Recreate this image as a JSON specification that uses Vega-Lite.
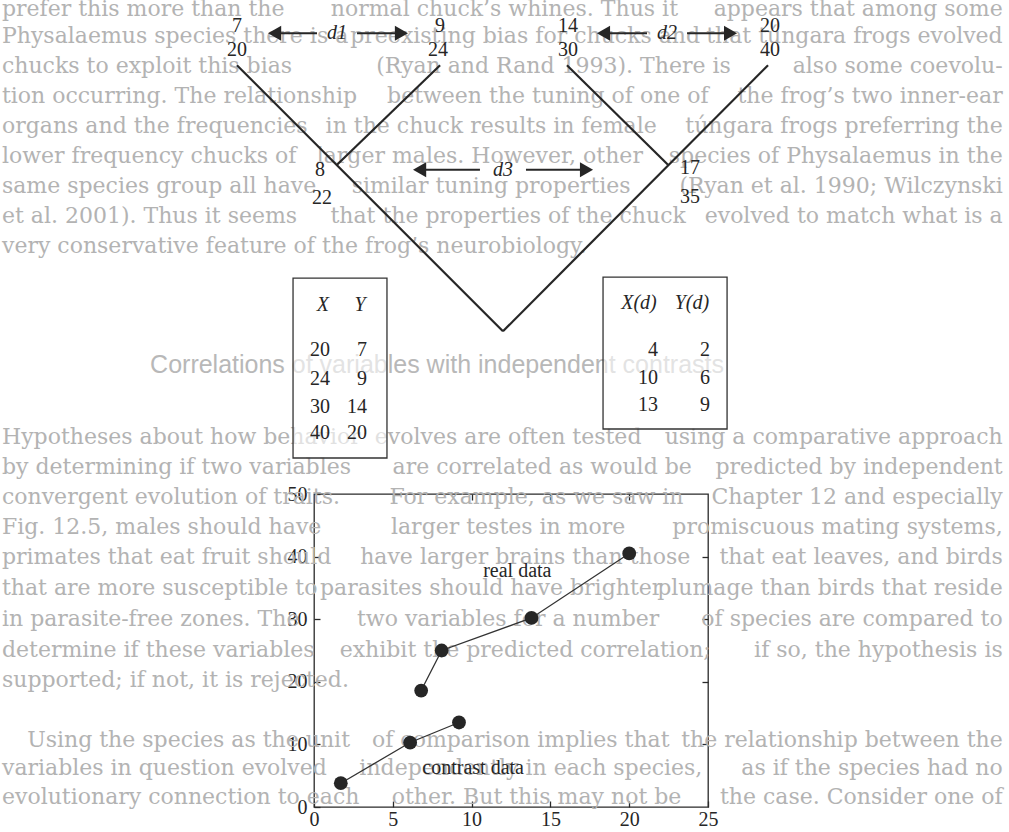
{
  "$schema": "https://vega.github.io/schema/vega-lite/v6.json",
  "width": 394,
  "height": 313,
  "autosize": {"type": "none"},
  "padding": {"left": 314, "top": 494, "right": 301, "bottom": 25},
  "background": "#ffffff",
  "config": {"view": {"stroke": "#2a2a2a", "strokeWidth": 1.3}},
  "datasets": {
    "bgLeft": [
      {"u": -19.8, "v": 127.4, "t": "prefer this more than the"},
      {"u": -19.8, "v": 123.2, "t": "Physalaemus species there is a"},
      {"u": -19.8, "v": 118.4, "t": "chucks to exploit this bias"},
      {"u": -19.8, "v": 113.6, "t": "tion occurring. The relationship"},
      {"u": -19.8, "v": 108.8, "t": "organs and the frequencies"},
      {"u": -19.8, "v": 104.0, "t": "lower frequency chucks of"},
      {"u": -19.8, "v": 99.2, "t": "same species group all have"},
      {"u": -19.8, "v": 94.4, "t": "et al. 2001). Thus it seems"},
      {"u": -19.8, "v": 89.6, "t": "very conservative feature of the frog’s neurobiology."},
      {"u": -19.8, "v": 59.1, "t": "Hypotheses about how behavior"},
      {"u": -19.8, "v": 54.3, "t": "by determining if two variables"},
      {"u": -19.8, "v": 49.5, "t": "convergent evolution of traits."},
      {"u": -19.8, "v": 44.7, "t": "Fig. 12.5, males should have"},
      {"u": -19.8, "v": 39.9, "t": "primates that eat fruit should"},
      {"u": -19.8, "v": 35.0, "t": "that are more susceptible to"},
      {"u": -19.8, "v": 30.0, "t": "in parasite-free zones. The"},
      {"u": -19.8, "v": 25.1, "t": "determine if these variables"},
      {"u": -19.8, "v": 20.3, "t": "supported; if not, it is rejected."},
      {"u": -18.2, "v": 10.7, "t": "Using the species as the unit"},
      {"u": -19.8, "v": 6.2, "t": "variables in question evolved"},
      {"u": -19.8, "v": 1.6, "t": "evolutionary connection to each"}
    ],
    "bgMid": [
      {"u": 12.08, "v": 127.4, "t": "normal chuck’s whines. Thus it"},
      {"u": 13.4, "v": 123.2, "t": "preexisting bias for chucks and"},
      {"u": 15.2, "v": 118.4, "t": "(Ryan and Rand 1993). There is"},
      {"u": 14.84, "v": 113.6, "t": "between the tuning of one of"},
      {"u": 11.24, "v": 108.8, "t": "in the chuck results in female"},
      {"u": 10.52, "v": 104.0, "t": "larger males. However, other"},
      {"u": 11.24, "v": 99.2, "t": "similar tuning properties"},
      {"u": 12.32, "v": 94.4, "t": "that the properties of the chuck"},
      {"u": 12.32, "v": 59.1, "t": "evolves are often tested"},
      {"u": 14.48, "v": 54.3, "t": "are correlated as would be"},
      {"u": 14.12, "v": 49.5, "t": "For example, as we saw in"},
      {"u": 12.32, "v": 44.7, "t": "larger testes in more"},
      {"u": 13.4, "v": 39.9, "t": "have larger brains than those"},
      {"u": 11.24, "v": 35.0, "t": "parasites should have brighter"},
      {"u": 12.32, "v": 30.0, "t": "two variables for a number"},
      {"u": 13.4, "v": 25.1, "t": "exhibit the predicted correlation;"},
      {"u": 13.12, "v": 10.7, "t": "of comparison implies that"},
      {"u": 13.76, "v": 6.2, "t": "independently in each species,"},
      {"u": 14.12, "v": 1.6, "t": "other. But this may not be"}
    ],
    "bgRight": [
      {"u": 43.7, "v": 127.4, "t": "appears that among some"},
      {"u": 43.7, "v": 123.2, "t": "that túngara frogs evolved"},
      {"u": 43.7, "v": 118.4, "t": "also some coevolu-"},
      {"u": 43.7, "v": 113.6, "t": "the frog’s two inner-ear"},
      {"u": 43.7, "v": 108.8, "t": "túngara frogs preferring the"},
      {"u": 43.7, "v": 104.0, "t": "species of Physalaemus in the"},
      {"u": 43.7, "v": 99.2, "t": "(Ryan et al. 1990; Wilczynski"},
      {"u": 43.7, "v": 94.4, "t": "evolved to match what is a"},
      {"u": 43.7, "v": 59.1, "t": "using a comparative approach"},
      {"u": 43.7, "v": 54.3, "t": "predicted by independent"},
      {"u": 43.7, "v": 49.5, "t": "Chapter 12 and especially"},
      {"u": 43.7, "v": 44.7, "t": "promiscuous mating systems,"},
      {"u": 43.7, "v": 39.9, "t": "that eat leaves, and birds"},
      {"u": 43.7, "v": 35.0, "t": "plumage than birds that reside"},
      {"u": 43.7, "v": 30.0, "t": "of species are compared to"},
      {"u": 43.7, "v": 25.1, "t": "if so, the hypothesis is"},
      {"u": 43.7, "v": 10.7, "t": "the relationship between the"},
      {"u": 43.7, "v": 6.2, "t": "as if the species had no"},
      {"u": 43.7, "v": 1.6, "t": "the case. Consider one of"}
    ],
    "heading": [
      {"u": -10.4, "v": 70.6, "t": "Correlations of variables with independent contrasts"}
    ],
    "tree": [
      {"x1": -4.89, "y1": 118.5, "x2": 11.99, "y2": 76.0},
      {"x1": 28.81, "y1": 118.5, "x2": 11.99, "y2": 76.0},
      {"x1": 8.0, "y1": 118.5, "x2": 1.46, "y2": 102.6},
      {"x1": 16.05, "y1": 118.5, "x2": 22.46, "y2": 102.6}
    ],
    "shafts": [
      {"x1": 0.19, "x2": -2.2, "y": 123.6},
      {"x1": 2.73, "x2": 5.25, "y": 123.6},
      {"x1": 21.13, "x2": 18.65, "y": 123.6},
      {"x1": 23.67, "x2": 26.15, "y": 123.6},
      {"x1": 10.53, "x2": 7.0, "y": 101.8},
      {"x1": 13.45, "x2": 17.0, "y": 101.8}
    ],
    "heads": [
      {"x": -2.5, "y": 123.6, "dir": "l"},
      {"x": 5.55, "y": 123.6, "dir": "r"},
      {"x": 18.37, "y": 123.6, "dir": "l"},
      {"x": 26.43, "y": 123.6, "dir": "r"},
      {"x": 6.7, "y": 101.8, "dir": "l"},
      {"x": 17.29, "y": 101.8, "dir": "r"}
    ],
    "boxes": [
      {"x1": -1.33, "x2": 4.63, "y1": 84.5, "y2": 55.75},
      {"x1": 18.34, "x2": 26.21, "y1": 84.66, "y2": 60.38}
    ],
    "labels": [
      {"x": -4.89, "y": 124.8, "t": "7"},
      {"x": -4.89, "y": 120.9, "t": "20"},
      {"x": 8.0, "y": 124.8, "t": "9"},
      {"x": 7.87, "y": 120.9, "t": "24"},
      {"x": 16.12, "y": 124.8, "t": "14"},
      {"x": 16.12, "y": 120.9, "t": "30"},
      {"x": 28.93, "y": 124.8, "t": "20"},
      {"x": 28.93, "y": 120.9, "t": "40"},
      {"x": 0.38, "y": 101.8, "t": "8"},
      {"x": 0.51, "y": 97.3, "t": "22"},
      {"x": 23.86, "y": 102.1, "t": "17"},
      {"x": 23.86, "y": 97.4, "t": "35"},
      {"x": 12.9, "y": 37.7, "t": "real data"},
      {"x": 10.1, "y": 6.3, "t": "contrast data"}
    ],
    "italics": [
      {"x": 0.57, "y": 80.2, "t": "X"},
      {"x": 2.92, "y": 80.2, "t": "Y"},
      {"x": 20.62, "y": 80.5, "t": "X(d)"},
      {"x": 23.98, "y": 80.5, "t": "Y(d)"},
      {"x": 1.46, "y": 123.6, "t": "d1"},
      {"x": 22.4, "y": 123.6, "t": "d2"},
      {"x": 11.99, "y": 101.8, "t": "d3"}
    ],
    "cells": [
      {"x": 1.02, "y": 73.0, "t": "20"},
      {"x": 1.02, "y": 68.4, "t": "24"},
      {"x": 1.02, "y": 63.9, "t": "30"},
      {"x": 1.02, "y": 59.7, "t": "40"},
      {"x": 3.36, "y": 73.0, "t": "7"},
      {"x": 3.36, "y": 68.4, "t": "9"},
      {"x": 3.36, "y": 63.9, "t": "14"},
      {"x": 3.36, "y": 59.7, "t": "20"},
      {"x": 21.83, "y": 73.0, "t": "4"},
      {"x": 21.83, "y": 68.5, "t": "10"},
      {"x": 21.83, "y": 64.2, "t": "13"},
      {"x": 25.13, "y": 73.0, "t": "2"},
      {"x": 25.13, "y": 68.5, "t": "6"},
      {"x": 25.13, "y": 64.2, "t": "9"}
    ],
    "pts": [
      {"series": "contrast", "i": 1, "x": 1.7, "y": 3.8},
      {"series": "contrast", "i": 2, "x": 6.1, "y": 10.3},
      {"series": "contrast", "i": 3, "x": 9.2, "y": 13.5},
      {"series": "real", "i": 1, "x": 6.8, "y": 18.6},
      {"series": "real", "i": 2, "x": 8.1, "y": 25.0},
      {"series": "real", "i": 3, "x": 13.8, "y": 30.2},
      {"series": "real", "i": 4, "x": 20.0, "y": 40.5}
    ]
  },
  "resolve": {"axis": {"x": "independent", "y": "independent"}},
  "layer": [
    {
      "data": {"name": "bgLeft"},
      "mark": {"type": "text", "align": "left", "baseline": "middle", "font": "DejaVu Serif", "fontSize": 22, "color": "#b3b3b3"},
      "encoding": {
        "x": {"field": "u", "type": "quantitative", "scale": {"domain": [0, 25], "nice": false, "zero": false}, "axis": null},
        "y": {"field": "v", "type": "quantitative", "scale": {"domain": [0, 50], "nice": false, "zero": false}, "axis": null},
        "text": {"field": "t"}
      }
    },
    {
      "data": {"name": "bgMid"},
      "mark": {"type": "text", "align": "center", "baseline": "middle", "font": "DejaVu Serif", "fontSize": 22, "color": "#b3b3b3"},
      "encoding": {
        "x": {"field": "u", "type": "quantitative", "scale": {"domain": [0, 25], "nice": false, "zero": false}, "axis": null},
        "y": {"field": "v", "type": "quantitative", "scale": {"domain": [0, 50], "nice": false, "zero": false}, "axis": null},
        "text": {"field": "t"}
      }
    },
    {
      "data": {"name": "bgRight"},
      "mark": {"type": "text", "align": "right", "baseline": "middle", "font": "DejaVu Serif", "fontSize": 22, "color": "#b3b3b3"},
      "encoding": {
        "x": {"field": "u", "type": "quantitative", "scale": {"domain": [0, 25], "nice": false, "zero": false}, "axis": null},
        "y": {"field": "v", "type": "quantitative", "scale": {"domain": [0, 50], "nice": false, "zero": false}, "axis": null},
        "text": {"field": "t"}
      }
    },
    {
      "data": {"name": "heading"},
      "mark": {"type": "text", "align": "left", "baseline": "middle", "font": "Liberation Sans", "fontSize": 25, "color": "#b8b8b8"},
      "encoding": {
        "x": {"field": "u", "type": "quantitative", "scale": {"domain": [0, 25], "nice": false, "zero": false}, "axis": null},
        "y": {"field": "v", "type": "quantitative", "scale": {"domain": [0, 50], "nice": false, "zero": false}, "axis": null},
        "text": {"field": "t"}
      }
    },
    {
      "data": {"name": "boxes"},
      "mark": {"type": "rect", "fill": "#ffffff", "fillOpacity": 0.6, "stroke": "#333333", "strokeWidth": 1.3},
      "encoding": {
        "x": {"field": "x1", "type": "quantitative", "scale": {"domain": [0, 25], "nice": false, "zero": false}, "axis": null},
        "x2": {"field": "x2"},
        "y": {"field": "y1", "type": "quantitative", "scale": {"domain": [0, 50], "nice": false, "zero": false}, "axis": null},
        "y2": {"field": "y2"}
      }
    },
    {
      "data": {"name": "tree"},
      "mark": {"type": "rule", "color": "#262626", "strokeWidth": 2.2},
      "encoding": {
        "x": {"field": "x1", "type": "quantitative", "scale": {"domain": [0, 25], "nice": false, "zero": false}, "axis": null},
        "x2": {"field": "x2"},
        "y": {"field": "y1", "type": "quantitative", "scale": {"domain": [0, 50], "nice": false, "zero": false}, "axis": null},
        "y2": {"field": "y2"}
      }
    },
    {
      "data": {"name": "shafts"},
      "mark": {"type": "rule", "color": "#262626", "strokeWidth": 2.2},
      "encoding": {
        "x": {"field": "x1", "type": "quantitative", "scale": {"domain": [0, 25], "nice": false, "zero": false}, "axis": null},
        "x2": {"field": "x2"},
        "y": {"field": "y", "type": "quantitative", "scale": {"domain": [0, 50], "nice": false, "zero": false}, "axis": null}
      }
    },
    {
      "data": {"name": "heads"},
      "mark": {"type": "point", "filled": true, "size": 230, "color": "#262626", "opacity": 1},
      "encoding": {
        "x": {"field": "x", "type": "quantitative", "scale": {"domain": [0, 25], "nice": false, "zero": false}, "axis": null},
        "y": {"field": "y", "type": "quantitative", "scale": {"domain": [0, 50], "nice": false, "zero": false}, "axis": null},
        "shape": {"field": "dir", "type": "nominal", "scale": {"domain": ["l", "r"], "range": ["triangle-left", "triangle-right"]}, "legend": null}
      }
    },
    {
      "data": {"name": "labels"},
      "mark": {"type": "text", "align": "center", "baseline": "middle", "font": "Liberation Serif", "fontSize": 20, "color": "#262626"},
      "encoding": {
        "x": {"field": "x", "type": "quantitative", "scale": {"domain": [0, 25], "nice": false, "zero": false}, "axis": null},
        "y": {"field": "y", "type": "quantitative", "scale": {"domain": [0, 50], "nice": false, "zero": false}, "axis": null},
        "text": {"field": "t"}
      }
    },
    {
      "data": {"name": "italics"},
      "mark": {"type": "text", "align": "center", "baseline": "middle", "font": "Liberation Serif", "fontStyle": "italic", "fontSize": 20, "color": "#262626"},
      "encoding": {
        "x": {"field": "x", "type": "quantitative", "scale": {"domain": [0, 25], "nice": false, "zero": false}, "axis": null},
        "y": {"field": "y", "type": "quantitative", "scale": {"domain": [0, 50], "nice": false, "zero": false}, "axis": null},
        "text": {"field": "t"}
      }
    },
    {
      "data": {"name": "cells"},
      "mark": {"type": "text", "align": "right", "baseline": "middle", "font": "Liberation Serif", "fontSize": 20, "color": "#262626"},
      "encoding": {
        "x": {"field": "x", "type": "quantitative", "scale": {"domain": [0, 25], "nice": false, "zero": false}, "axis": null},
        "y": {"field": "y", "type": "quantitative", "scale": {"domain": [0, 50], "nice": false, "zero": false}, "axis": null},
        "text": {"field": "t"}
      }
    },
    {
      "data": {"name": "pts"},
      "mark": {"type": "line", "color": "#333333", "strokeWidth": 1.3},
      "encoding": {
        "x": {"field": "x", "type": "quantitative", "scale": {"domain": [0, 25], "nice": false, "zero": false},
              "axis": {"orient": "top", "values": [5, 10, 15, 20], "labels": false, "title": null, "domain": false, "grid": false, "tickSize": -6, "tickWidth": 1.3, "tickColor": "#2a2a2a"}},
        "y": {"field": "y", "type": "quantitative", "scale": {"domain": [0, 50], "nice": false, "zero": false},
              "axis": {"orient": "right", "values": [10, 20, 30, 40], "labels": false, "title": null, "domain": false, "grid": false, "tickSize": -6, "tickWidth": 1.3, "tickColor": "#2a2a2a"}},
        "detail": {"field": "series"},
        "order": {"field": "i"}
      }
    },
    {
      "data": {"name": "pts"},
      "mark": {"type": "point", "filled": true, "size": 190, "color": "#262626", "opacity": 1},
      "encoding": {
        "x": {"field": "x", "type": "quantitative", "scale": {"domain": [0, 25], "nice": false, "zero": false},
              "axis": {"orient": "bottom", "values": [0, 5, 10, 15, 20, 25], "title": null, "domain": false, "grid": false, "tickSize": -6, "tickWidth": 1.3, "tickColor": "#2a2a2a", "labelFont": "Liberation Serif", "labelFontSize": 20, "labelColor": "#262626", "labelPadding": 8, "labelFlush": false, "labelOverlap": false}},
        "y": {"field": "y", "type": "quantitative", "scale": {"domain": [0, 50], "nice": false, "zero": false},
              "axis": {"orient": "left", "values": [0, 10, 20, 30, 40, 50], "title": null, "domain": false, "grid": false, "tickSize": -6, "tickWidth": 1.3, "tickColor": "#2a2a2a", "labelFont": "Liberation Serif", "labelFontSize": 20, "labelColor": "#262626", "labelPadding": 13, "labelFlush": false, "labelOverlap": false}}
      }
    }
  ]
}
